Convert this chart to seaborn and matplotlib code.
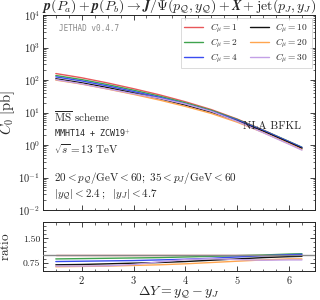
import numpy as np
import pandas as pd
import matplotlib
matplotlib.use("Agg")
import matplotlib.pyplot as plt
import matplotlib.ticker as mticker
import seaborn as sns

# ---- data ----
dY = [1.5, 2.0, 2.5, 3.0, 3.5, 4.0, 4.5, 5.0, 5.5, 6.0, 6.25]
C0_mu1 = [158, 117, 81, 54, 35, 21.4, 12.3, 6.3, 2.9, 1.26, 0.83]
ratio_mu2 = [0.87, 0.88, 0.89, 0.90, 0.91, 0.93, 0.95, 0.97, 0.99, 1.02, 1.03]
ratio_mu4 = [0.79, 0.80, 0.81, 0.82, 0.84, 0.86, 0.89, 0.93, 0.97, 1.00, 1.01]
ratio_mu10 = [0.69, 0.70, 0.72, 0.74, 0.76, 0.79, 0.83, 0.87, 0.91, 0.94, 0.95]
ratio_mu20 = [0.63, 0.64, 0.65, 0.67, 0.69, 0.72, 0.76, 0.80, 0.84, 0.87, 0.87]
ratio_mu30 = [0.65, 0.65, 0.66, 0.70, 0.78, 0.85, 0.88, 0.85, 0.83, 0.84, 0.84]
labels = [r"$C_\mu = 1$", r"$C_\mu = 2$", r"$C_\mu = 4$",
          r"$C_\mu = 10$", r"$C_\mu = 20$", r"$C_\mu = 30$"]
colors = ["#e8575a", "#3fa34d", "#3a4cf0", "#111111", "#ffa54f", "#c3a0e6"]

ratios = [[1.0] * len(dY), ratio_mu2, ratio_mu4, ratio_mu10, ratio_mu20, ratio_mu30]
rows = []
for lab, rat in zip(labels, ratios):
    for x, r, c1 in zip(dY, rat, C0_mu1):
        rows.append({"dY": x, "C0": c1 * r, "ratio": r, "scale": lab})
df = pd.DataFrame(rows)

sns.set_style("ticks")
plt.rcParams["font.family"] = "serif"
plt.rcParams["font.serif"] = ["cmr10", "DejaVu Serif"]
plt.rcParams["mathtext.fontset"] = "cm"
plt.rcParams["axes.formatter.use_mathtext"] = True
plt.rcParams["axes.unicode_minus"] = False

fig = plt.figure(figsize=(3.2, 3.0), dpi=100)
ax = fig.add_axes([0.134, 0.30, 0.85, 0.65])
axr = fig.add_axes([0.134, 0.0967, 0.85, 0.163])

pal = dict(zip(labels, colors))
sns.lineplot(data=df, x="dY", y="C0", hue="scale", palette=pal, ax=ax, lw=1.0, legend=False)
sns.lineplot(data=df, x="dY", y="ratio", hue="scale", palette=pal, ax=axr, lw=1.0, legend=False)
axr.axhline(1.0, color="#888888", lw=1.0, zorder=5)

ax.set_yscale("log")
ax.set_ylim(1e-2, 1e4)
ax.set_xlim(1.25, 6.5)
axr.set_xlim(1.25, 6.5)
axr.set_ylim(0.5, 2.0)

for a in (ax, axr):
    a.tick_params(which="both", direction="in", top=True, right=True, labelsize=7.5)
    a.tick_params(which="major", length=3.5, width=0.6, pad=2)
    a.tick_params(which="minor", length=1.8, width=0.5)
    a.xaxis.set_major_locator(mticker.MultipleLocator(1))
    a.xaxis.set_minor_locator(mticker.MultipleLocator(0.25))
    for s in a.spines.values():
        s.set_linewidth(0.7)
ax.yaxis.set_major_locator(mticker.LogLocator(base=10, numticks=10))
ax.yaxis.set_minor_locator(mticker.LogLocator(base=10, subs=np.arange(2, 10), numticks=20))
ax.yaxis.set_minor_formatter(mticker.NullFormatter())
ax.set_xticklabels([])
axr.yaxis.set_major_locator(mticker.FixedLocator([0.75, 1.5]))
axr.yaxis.set_major_formatter(mticker.FormatStrFormatter("%.2f"))
axr.yaxis.set_minor_locator(mticker.MultipleLocator(0.125))
axr.tick_params(axis="y", labelsize=7)

ax.set_xlabel("")
ax.set_ylabel(r"$C_0\ [\mathrm{pb}]$", fontsize=10.5)
ax.yaxis.set_label_coords(-0.095, 0.5)
axr.set_ylabel(r"$\mathrm{ratio}$", fontsize=9.5)
axr.yaxis.set_label_coords(-0.112, 0.5)
axr.set_xlabel(r"$\Delta Y = y_{\mathcal{Q}} - y_J$", fontsize=10)
axr.xaxis.set_label_coords(0.5, -0.29)

ax.set_title(r"$\boldsymbol{p(P_a) + p(P_b) \to J/\Psi(p_{\mathcal{Q}}, y_{\mathcal{Q}}) + X + \mathrm{jet}(p_J, y_J)}$",
             fontsize=10, pad=-3.5)

ax.text(0.06, 0.955, "JETHAD v0.4.7", transform=ax.transAxes, fontsize=5.5,
        family="monospace", color="#888888", va="top")

handles = [plt.Line2D([], [], color=c, lw=1.0) for c in colors]
leg = ax.legend(handles, labels, ncol=2,
                loc="upper right", fontsize=6.8, frameon=True, fancybox=False,
                edgecolor="#cccccc", handlelength=2.0, columnspacing=1.2,
                borderaxespad=0.35, labelspacing=0.2, handletextpad=0.7,
                borderpad=0.35)
leg.get_frame().set_linewidth(0.6)

ax.text(0.95, 0.43, "NLA BFKL", transform=ax.transAxes, fontsize=8, ha="right", va="center")
tx = 0.04
ax.text(tx, 0.48, r"$\overline{\mathrm{MS}}$ scheme", transform=ax.transAxes, fontsize=8, va="center")
ax.text(tx, 0.395, r"MMHT14 + ZCW19$^{+}$", transform=ax.transAxes, fontsize=6,
        family="monospace", va="center")
ax.text(tx, 0.31, r"$\sqrt{s} = 13$ TeV", transform=ax.transAxes, fontsize=8, va="center")
ax.text(tx, 0.165, r"$20 < p_{\mathcal{Q}}/\mathrm{GeV} < 60;\ 35 < p_J/\mathrm{GeV} < 60$",
        transform=ax.transAxes, fontsize=8, va="center")
ax.text(tx, 0.08, r"$|y_{\mathcal{Q}}| < 2.4\,;\ \ |y_J| < 4.7$", transform=ax.transAxes,
        fontsize=8, va="center")

fig.savefig("out.png", dpi=100)
